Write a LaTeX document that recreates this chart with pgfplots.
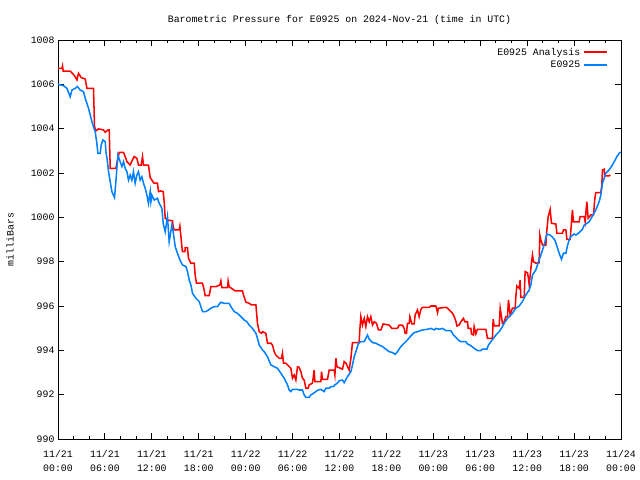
\documentclass[border=0pt]{standalone}
\usepackage{pgfplots}
\pgfplotsset{compat=1.18}
\usepackage{fontspec}
\setmainfont{Liberation Mono}
\definecolor{anared}{RGB}{255,0,0}
\definecolor{obsblue}{RGB}{0,128,255}
\begin{document}
\fontsize{7.1}{10}\selectfont
\begin{tikzpicture}
\useasboundingbox (-41.76pt,-29.52pt) rectangle (419.04pt,316.08pt);
\begin{axis}[
  scale only axis,
  width=405.36pt, height=287.28pt,
  xmin=0, xmax=72, ymin=990, ymax=1008,
  xtick={0,6,...,72},
  xticklabels={{11/21\\00:00},{11/21\\06:00},{11/21\\12:00},{11/21\\18:00},{11/22\\00:00},{11/22\\06:00},{11/22\\12:00},{11/22\\18:00},{11/23\\00:00},{11/23\\06:00},{11/23\\12:00},{11/23\\18:00},{11/24\\00:00}},
  xticklabel style={align=center, font=\fontsize{7.1}{10}\selectfont, yshift=-5.5pt},
  minor x tick num=2,
  ytick={990,992,...,1008},
  yticklabel style={font=\fontsize{7.1}{10}\selectfont},
  /pgf/number format/assume math mode=true,
  /pgf/number format/1000 sep={},
  /pgf/number format/fixed,
  tick align=inside,
  major tick length=4.5pt, minor tick length=2.5pt,
  tick style={black, line width=0.7pt},
  axis line style={black, line width=0.7pt},
  title={Barometric Pressure for E0925 on 2024-Nov-21 (time in UTC)},
  title style={at={(0.5,1)}, anchor=center, yshift=8.6pt, font=\fontsize{7.1}{10}\selectfont},
  ylabel={milliBars},
  ylabel style={at={(axis description cs:-0.0853,0.5)}, anchor=center, font=\fontsize{7.1}{10}\selectfont},
  legend style={draw=none, fill=none, at={(1,1)}, anchor=north east, xshift=-6pt, yshift=-1.5pt,
    font=\fontsize{7.1}{10}\selectfont, row sep=-1pt},
  legend cell align=right,
  legend plot pos=right,
]
\addplot[anared, line width=1.1pt, mark=none] coordinates {
(0.00,1006.72)(0.50,1006.72)(0.58,1006.83)(0.66,1006.60)(1.56,1006.60)(2.11,1006.39)(2.42,1006.20)(2.62,1006.50)(2.97,1006.30)(3.48,1006.24)(3.70,1005.82)(4.54,1005.82)(4.67,1004.09)(4.85,1003.90)(5.18,1003.99)(5.82,1003.94)(6.04,1003.84)(6.38,1003.94)(6.55,1003.94)(6.68,1002.21)(7.40,1002.21)(7.53,1002.44)(7.83,1002.93)(8.38,1002.93)(8.59,1002.74)(8.81,1002.51)(9.23,1002.36)(9.45,1002.54)(9.74,1002.74)(10.09,1002.66)(10.29,1002.36)(10.64,1002.36)(10.81,1002.74)(10.93,1002.36)(11.57,1002.36)(11.79,1001.79)(12.14,1001.61)(12.30,1001.54)(12.72,1001.54)(12.85,1001.16)(13.16,1001.19)(13.45,1001.16)(13.58,1000.71)(13.71,999.96)(14.00,999.88)(14.64,999.84)(14.73,999.58)(14.86,999.43)(15.50,999.43)(15.59,999.60)(15.72,999.13)(15.84,998.68)(15.92,998.45)(16.23,998.45)(16.27,998.63)(16.56,998.63)(16.69,998.15)(17.00,997.93)(17.42,997.93)(17.54,997.40)(17.71,997.03)(18.48,997.03)(18.70,996.72)(18.82,996.47)(19.34,996.47)(19.55,996.87)(20.19,996.87)(20.70,996.95)(20.83,997.13)(20.96,996.83)(21.68,996.83)(21.76,997.13)(21.89,996.87)(22.66,996.68)(23.59,996.68)(23.72,996.50)(24.03,996.17)(24.45,996.12)(24.74,996.05)(25.31,996.05)(25.51,995.22)(25.73,994.84)(26.02,994.77)(26.15,994.84)(26.58,994.77)(26.79,994.32)(27.23,994.32)(27.43,994.24)(27.65,993.94)(27.86,993.79)(28.29,993.64)(28.58,993.64)(28.71,993.87)(28.84,993.42)(29.14,993.42)(29.78,993.19)(29.99,992.74)(30.21,992.89)(30.42,992.66)(30.63,993.26)(30.84,993.23)(31.06,993.04)(31.27,992.74)(31.48,992.66)(31.70,992.29)(31.99,992.29)(32.12,992.44)(32.54,992.52)(32.63,992.74)(32.76,993.11)(32.85,992.59)(33.62,992.59)(33.70,993.04)(33.82,992.69)(34.46,992.69)(34.68,993.11)(35.32,993.11)(35.41,992.89)(35.54,993.64)(35.67,993.26)(36.38,993.15)(36.60,993.49)(36.82,993.42)(37.24,993.11)(37.46,993.64)(37.66,994.35)(38.51,994.35)(38.60,994.92)(38.73,995.52)(38.94,995.14)(39.16,995.44)(39.37,995.07)(39.58,995.52)(39.80,995.29)(40.01,995.52)(40.22,995.14)(40.44,995.29)(40.73,995.22)(40.98,994.92)(41.29,994.92)(41.59,995.19)(42.35,995.14)(42.70,994.99)(43.41,994.99)(43.63,995.14)(44.05,995.14)(44.27,994.99)(44.40,994.77)(44.57,994.77)(44.69,995.22)(44.91,995.22)(45.00,995.52)(45.26,995.19)(45.55,995.19)(45.68,995.60)(45.97,995.82)(46.19,995.52)(46.41,995.85)(46.61,995.94)(47.47,995.94)(47.69,996.00)(48.32,996.00)(48.54,995.70)(48.64,995.90)(49.62,995.94)(49.82,995.90)(50.46,995.67)(50.68,995.52)(50.90,995.29)(51.02,995.10)(51.30,995.14)(51.52,995.29)(51.85,995.44)(52.03,995.29)(52.37,995.29)(52.46,994.99)(52.80,994.99)(52.88,994.74)(53.13,994.69)(53.22,995.07)(53.44,994.74)(53.64,994.95)(54.72,994.95)(54.92,994.54)(55.56,994.54)(55.65,995.40)(55.78,995.10)(56.42,995.10)(56.55,995.90)(56.84,995.22)(57.06,995.29)(57.28,995.52)(57.48,995.52)(57.61,996.27)(57.83,995.60)(58.12,995.90)(58.47,995.90)(58.55,996.42)(58.68,996.90)(58.98,996.80)(59.10,997.17)(59.19,996.39)(59.62,996.39)(59.74,997.55)(60.04,997.50)(60.13,997.33)(60.26,996.95)(60.55,997.93)(60.68,998.30)(60.81,998.00)(61.11,997.93)(61.53,997.95)(61.62,999.20)(61.75,998.98)(61.96,998.75)(62.39,998.75)(62.52,999.43)(62.69,1000.03)(62.94,1000.36)(63.11,999.73)(63.67,999.70)(63.80,999.28)(64.51,999.28)(64.64,999.43)(64.95,999.43)(65.08,999.01)(65.50,999.01)(65.79,1000.33)(65.92,999.80)(66.65,999.80)(66.78,1000.03)(67.29,1000.03)(67.42,999.80)(67.63,1000.71)(67.80,999.96)(68.15,1000.11)(68.48,1000.11)(68.66,1000.86)(68.78,1001.11)(69.42,1001.11)(69.55,1001.46)(69.63,1002.14)(69.85,1002.17)(69.94,1001.87)(70.49,1001.87)(70.63,1001.91)
};
\addlegendentry{E0925 Analysis}
\addplot[obsblue, line width=1.1pt, mark=none] coordinates {
(0.00,1006.00)(0.70,1005.94)(1.14,1005.82)(1.56,1005.44)(1.78,1005.74)(2.20,1005.82)(2.49,1005.90)(2.84,1005.74)(3.26,1005.67)(3.48,1005.37)(3.70,1005.14)(3.90,1004.92)(4.12,1004.62)(4.34,1004.31)(4.54,1004.09)(4.76,1003.86)(4.97,1003.34)(5.10,1002.89)(5.40,1002.89)(5.52,1003.26)(5.74,1003.49)(6.04,1003.41)(6.13,1002.96)(6.33,1002.51)(6.46,1002.06)(6.68,1001.60)(6.89,1001.16)(7.23,1000.89)(7.40,1001.60)(7.66,1002.81)(7.95,1002.51)(8.17,1002.29)(8.38,1002.51)(8.59,1002.21)(8.81,1002.06)(9.02,1001.68)(9.23,1001.91)(9.45,1001.68)(9.65,1002.06)(9.87,1001.54)(10.09,1001.91)(10.29,1002.06)(10.51,1001.68)(10.73,1001.83)(10.93,1001.54)(11.15,1001.31)(11.37,1001.00)(11.57,1000.63)(11.79,1001.16)(11.88,1000.71)(12.01,1001.00)(12.30,1000.78)(12.72,1000.86)(12.94,1000.63)(13.29,1000.41)(13.45,999.73)(13.71,999.35)(14.00,1000.03)(14.22,998.90)(14.57,999.66)(14.73,999.35)(14.99,998.68)(15.28,998.38)(15.59,998.08)(15.92,997.85)(16.36,997.78)(16.56,997.55)(16.78,997.17)(17.00,996.95)(17.20,996.57)(17.63,996.35)(18.06,996.20)(18.48,995.75)(18.91,995.75)(19.25,995.82)(19.55,995.90)(19.97,995.97)(20.40,995.97)(20.61,996.08)(20.83,996.17)(21.25,996.12)(21.89,996.12)(22.11,995.97)(22.53,995.75)(22.95,995.67)(23.39,995.52)(23.81,995.37)(24.16,995.29)(24.45,995.14)(24.87,994.99)(25.31,994.77)(25.51,994.54)(25.73,994.24)(26.15,994.02)(26.37,993.94)(26.79,993.71)(27.23,993.34)(27.65,993.26)(28.07,993.19)(28.50,992.97)(28.93,992.74)(29.35,992.44)(29.57,992.21)(29.78,992.14)(29.99,992.24)(30.63,992.24)(30.84,992.21)(31.27,992.21)(31.48,991.99)(31.70,991.88)(32.12,991.88)(32.34,991.99)(32.54,992.03)(32.98,992.14)(33.27,992.21)(33.62,992.24)(34.04,992.14)(34.26,992.29)(34.68,992.29)(34.90,992.36)(35.23,992.36)(35.41,992.44)(35.74,992.52)(35.96,992.63)(36.38,992.66)(36.60,992.54)(37.00,992.80)(37.46,993.04)(37.66,993.34)(37.88,993.71)(38.17,994.02)(38.43,994.32)(38.73,994.39)(39.16,994.39)(39.37,994.54)(39.58,994.69)(39.80,994.50)(40.22,994.35)(40.65,994.32)(41.07,994.24)(41.50,994.17)(41.93,994.05)(42.35,993.94)(42.77,993.90)(43.12,993.82)(43.41,993.94)(43.85,994.17)(44.27,994.32)(44.69,994.47)(45.13,994.65)(45.55,994.80)(45.97,994.84)(46.61,994.92)(47.25,994.95)(47.69,994.99)(48.11,994.92)(48.32,994.99)(48.75,994.95)(49.17,994.99)(49.60,994.89)(50.24,994.89)(50.58,994.69)(50.88,994.59)(51.18,994.47)(51.52,994.39)(52.16,994.39)(52.37,994.29)(52.80,994.21)(53.22,994.09)(53.64,993.99)(54.08,993.99)(54.28,994.05)(54.85,994.05)(55.05,994.24)(55.36,994.39)(55.69,994.54)(56.00,994.69)(56.42,994.84)(56.84,995.07)(57.06,995.22)(57.48,995.44)(58.12,995.67)(58.55,995.90)(58.98,996.00)(59.40,996.20)(59.71,996.42)(59.96,996.57)(60.26,996.72)(60.47,996.95)(60.68,997.40)(61.11,997.63)(61.53,998.08)(61.83,998.38)(62.17,998.75)(62.52,999.25)(62.94,999.20)(63.24,999.10)(63.54,998.98)(63.80,998.71)(64.09,998.38)(64.39,998.11)(64.64,998.38)(64.95,998.38)(65.15,998.71)(65.37,998.98)(65.59,999.13)(66.01,999.25)(66.23,999.20)(66.65,999.31)(67.07,999.46)(67.29,999.65)(67.93,999.80)(68.35,1000.06)(68.78,1000.33)(69.21,1000.71)(69.42,1001.00)(69.63,1001.54)(70.06,1001.99)(70.49,1002.14)(70.78,1002.29)(71.13,1002.51)(71.48,1002.74)(71.77,1002.89)(71.97,1002.95)
};
\addlegendentry{E0925}
\end{axis}
\end{tikzpicture}
\end{document}
